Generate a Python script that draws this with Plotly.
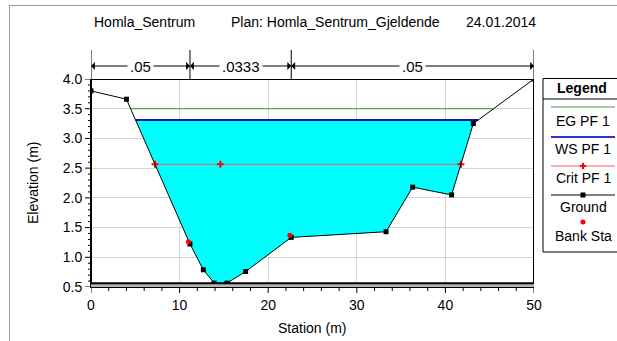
import plotly.graph_objects as go

# ---- cross-section data -------------------------------------------------
GROUND_STA = [0.0, 4.0, 11.17, 12.68, 13.9, 15.35, 17.45, 22.6, 33.3, 36.3, 40.7, 43.15, 50.0]
GROUND_ELEV = [3.80, 3.66, 1.224, 0.79, 0.565, 0.565, 0.76, 1.335, 1.43, 2.18, 2.05, 3.25, 4.0]

BANK_STA = [11.0, 22.45]
BANK_ELEV = [1.26, 1.37]

# Manning's n zone boundaries (stations) and values
N_BREAK_STA = [0.0, 11.17, 22.6, 50.0]
MANNING_N = [".05", ".0333", ".05"]

WS_ELEV = 3.31      # water surface, PF 1
EG_ELEV = 3.50      # energy grade, PF 1
CRIT_ELEV = 2.565   # critical depth, PF 1
CRIT_MID_STA = 14.6

TITLE_PARTS = ["Homla_Sentrum", "Plan: Homla_Sentrum_Gjeldende", "24.01.2014"]
LEGEND_ITEMS = ["EG PF 1", "WS PF 1", "Crit PF 1", "Ground", "Bank Sta"]

X_RANGE = [0, 50]
Y_RANGE = [0.5, 4.0]
X_MAJOR, X_MINOR = 10, 2
Y_MAJOR, Y_MINOR = 0.5, 0.1

FONT = "Liberation Sans, Arial, sans-serif"
FS = 14

# ---- figure geometry (pixels) -------------------------------------------
W, H = 617, 341
L, R, T, B = 91, 83, 79, 54
PW, PH = W - L - R, H - T - B


def fx(px):
    return (px - L) / PW


def fy(py):
    return (H - B - py) / PH


def crossings(sta, elev, level):
    """First and last station where the ground profile crosses a level."""
    pts = []
    for i in range(len(sta) - 1):
        d0, d1 = elev[i] - level, elev[i + 1] - level
        if (d0 > 0) != (d1 > 0):
            t = d0 / (d0 - d1)
            pts.append(sta[i] + t * (sta[i + 1] - sta[i]))
    return pts[0], pts[-1]


def wetted_polygon(sta, elev, level):
    xl, xr = crossings(sta, elev, level)
    xs, ys = [xl], [level]
    for s, e in zip(sta, elev):
        if xl < s < xr:
            xs.append(s)
            ys.append(e)
    xs.append(xr)
    ys.append(level)
    return xs, ys


def steps(lo, hi, d):
    n = int(round((hi - lo) / d))
    return [lo + k * d for k in range(n + 1)]


def text(x, y, s, xanchor="center", size=FS, **kw):
    return dict(x=fx(x), y=fy(y), xref="paper", yref="paper", text=s,
                showarrow=False, xanchor=xanchor, yanchor="middle",
                font=dict(family=FONT, size=size, color="black"), **kw)


fig = go.Figure()

# water body
wx, wy = wetted_polygon(GROUND_STA, GROUND_ELEV, WS_ELEV)
fig.add_trace(go.Scatter(x=wx, y=wy, fill="toself", fillcolor="#00ffff",
                         line=dict(width=0), mode="lines", hoverinfo="skip"))

# energy grade line
eg_l, eg_r = crossings(GROUND_STA, GROUND_ELEV, EG_ELEV)
fig.add_trace(go.Scatter(x=[eg_l, eg_r], y=[EG_ELEV, EG_ELEV], mode="lines",
                         line=dict(color="#3a9a3a", width=1)))

# water surface line
ws_l, ws_r = crossings(GROUND_STA, GROUND_ELEV, WS_ELEV)
fig.add_trace(go.Scatter(x=[ws_l, ws_r], y=[WS_ELEV, WS_ELEV], mode="lines",
                         line=dict(color="#1010b0", width=2)))

# critical depth line
cr_l, cr_r = crossings(GROUND_STA, GROUND_ELEV, CRIT_ELEV)
fig.add_trace(go.Scatter(x=[cr_l, CRIT_MID_STA, cr_r], y=[CRIT_ELEV] * 3,
                         mode="lines+markers",
                         line=dict(color="#f06060", width=1),
                         marker=dict(symbol="cross-thin", size=5,
                                     line=dict(color="#ff0000", width=2))))

# ground profile
fig.add_trace(go.Scatter(x=GROUND_STA, y=GROUND_ELEV, mode="lines+markers",
                         line=dict(color="black", width=1),
                         marker=dict(symbol="square", size=5, color="black")))

# bank stations
fig.add_trace(go.Scatter(x=BANK_STA, y=BANK_ELEV, mode="markers",
                         marker=dict(symbol="circle", size=5, color="#ff0000")))

shapes = []
annotations = []

# ground base band and heavy section frame
gmin = min(GROUND_ELEV)
shapes.append(dict(type="rect", xref="x", yref="y", x0=X_RANGE[0], x1=X_RANGE[1],
                   y0=Y_RANGE[0], y1=gmin, fillcolor="#b4b4b4",
                   line=dict(width=0), layer="above"))
shapes.append(dict(type="rect", xref="x", yref="y", x0=X_RANGE[0], x1=X_RANGE[1],
                   y0=gmin, y1=Y_RANGE[1], line=dict(color="black", width=2),
                   layer="above"))

# axis tick marks (major and minor)
for v in steps(X_RANGE[0], X_RANGE[1], X_MINOR):
    major = abs(v / X_MAJOR - round(v / X_MAJOR)) < 1e-9
    shapes.append(dict(type="line", xref="x", yref="paper", x0=v, x1=v,
                       y0=0, y1=fy(H - B + (6 if major else 4)),
                       line=dict(color="black", width=1)))
for v in steps(Y_RANGE[0], Y_RANGE[1], Y_MINOR):
    major = abs(v / Y_MAJOR - round(v / Y_MAJOR)) < 1e-6
    shapes.append(dict(type="line", xref="paper", yref="y", y0=v, y1=v,
                       x0=0, x1=fx(L - (6 if major else 3)),
                       line=dict(color="black", width=1)))

# outer frame
shapes.append(dict(type="rect", xref="paper", yref="paper", x0=fx(9.5), x1=fx(700),
                   y0=fy(400), y1=fy(5.5), line=dict(color="#9a9a9a", width=1)))

# Manning's n zones above the plot
for s in N_BREAK_STA:
    shapes.append(dict(type="line", xref="x", yref="paper", x0=s, x1=s,
                       y0=fy(79), y1=fy(50), line=dict(color="black", width=1)))
arrow_y = fy(66)
for i, label in enumerate(MANNING_N):
    a, b = N_BREAK_STA[i], N_BREAK_STA[i + 1]
    mid = (a + b) / 2
    for end in (a, b):
        annotations.append(dict(x=end, y=arrow_y, xref="x", yref="paper",
                                ax=mid, ay=0, axref="x", ayref="pixel",
                                text="", showarrow=True, arrowhead=1, arrowsize=1.3,
                                arrowwidth=1, arrowcolor="black", standoff=0))
    annotations.append(dict(x=mid, y=arrow_y, xref="x", yref="paper", text=label,
                            showarrow=False, bgcolor="white", xanchor="center",
                            yanchor="middle",
                            font=dict(family=FONT, size=15, color="black"),
                            borderpad=2))

# title line
for s, px in zip(TITLE_PARTS, [92, 229, 464]):
    annotations.append(text(px, 22, s, xanchor="left"))

# axis titles
annotations.append(text(33, 183, "Elevation (m)", textangle=-90))
annotations.append(text(312, 328, "Station (m)"))

# legend box
lx0, lx1 = 543, 640
shapes.append(dict(type="rect", xref="paper", yref="paper", x0=fx(lx0), x1=fx(lx1),
                   y0=fy(252), y1=fy(78.5), line=dict(color="black", width=1)))
shapes.append(dict(type="line", xref="paper", yref="paper", x0=fx(lx0), x1=fx(lx1),
                   y0=fy(99), y1=fy(99), line=dict(color="black", width=1)))
annotations.append(text(582, 88, "<b>Legend</b>"))

sym_y = [107, 137, 166, 195, 222]
txt_y = [121, 149, 178, 207, 236]
line_styles = [("#3a9a3a", 1), ("#3030d0", 2), ("#f06060", 1), ("black", 1)]
for i, (col, w) in enumerate(line_styles):
    shapes.append(dict(type="line", xref="paper", yref="paper", x0=fx(551), x1=fx(615),
                       y0=fy(sym_y[i]), y1=fy(sym_y[i]), line=dict(color=col, width=w)))
# crit marker
shapes.append(dict(type="line", xref="paper", yref="paper", x0=fx(580), x1=fx(586),
                   y0=fy(166), y1=fy(166), line=dict(color="#ff0000", width=2)))
shapes.append(dict(type="line", xref="paper", yref="paper", x0=fx(583), x1=fx(583),
                   y0=fy(163), y1=fy(169), line=dict(color="#ff0000", width=2)))
# ground marker
shapes.append(dict(type="rect", xref="paper", yref="paper", x0=fx(580.5), x1=fx(585.5),
                   y0=fy(197.5), y1=fy(192.5), fillcolor="black", line=dict(width=0)))
# bank marker
shapes.append(dict(type="circle", xref="paper", yref="paper", x0=fx(580.5), x1=fx(585.5),
                   y0=fy(224.5), y1=fy(219.5), fillcolor="#ff0000", line=dict(width=0)))
for s, ty in zip(LEGEND_ITEMS, txt_y):
    annotations.append(text(583, ty, s))

axis_common = dict(
    showgrid=True, gridcolor="#d4d4d4", gridwidth=1,
    showline=True, linecolor="black", linewidth=1,
    ticks="outside", ticklen=5, tickcolor="rgba(0,0,0,0)", tickwidth=1,
    tickfont=dict(family=FONT, size=FS, color="black"),
    zeroline=False, fixedrange=True,
)

fig.update_layout(
    width=W, height=H,
    margin=dict(l=L, r=R, t=T, b=B),
    paper_bgcolor="white", plot_bgcolor="white",
    showlegend=False,
    xaxis=dict(range=X_RANGE, tickmode="linear", tick0=0, dtick=X_MAJOR, **axis_common),
    yaxis=dict(range=Y_RANGE, tickmode="linear", tick0=Y_RANGE[0], dtick=Y_MAJOR,
               tickformat=".1f", **axis_common),
    shapes=shapes,
    annotations=annotations,
)

fig.write_html("out.html")
